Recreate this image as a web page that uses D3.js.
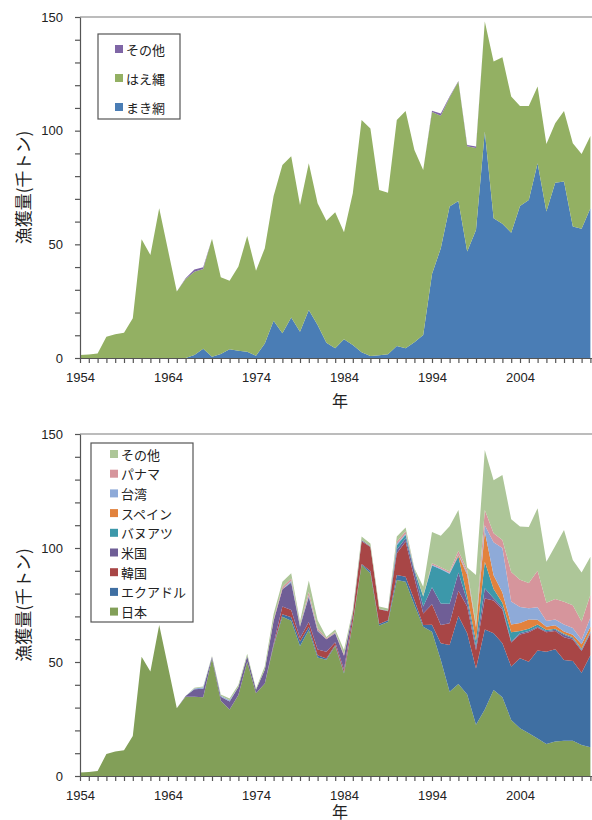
<!DOCTYPE html>
<html>
<head>
<meta charset="utf-8">
<script src="https://cdn.jsdelivr.net/npm/d3@7"></script>
<style>
  html, body { margin: 0; padding: 0; background: #fff; }
  svg { display: block; }
  .tick text { font-family: "Liberation Sans", Arial, sans-serif; font-size: 13px; fill: #222; }
  .jp { font-family: "Noto Sans CJK JP", sans-serif; fill: #222; }
</style>
</head>
<body>
<script>
// Years 1954–2012
const years = d3.range(1954, 2013);

// Upper panel: catch by gear (thousand tonnes)
const gearKeys   = ["まき網", "はえ縄", "その他"];
const purseSeine = [0,0,0,0,0,0,0,0,0,0, 0,0,0,1.3,4.1,0.6,1.8,3.8,3.2,2.8,
  1.0,6.4,16.4,10.9,17.8,11.6,21.1,14.5,6.7,4.3, 8.2,5.7,2.5,0.9,1.2,1.6,5.3,4.3,6.9,10.1,
  37,48.3,66.6,69.1,46.8,56.3,99.6,61.5,59,55.1, 66.9,69.5,85.7,64.4,77.1,77.6,57.8,56.9,65.9];
const longline   = [1.3,1.5,2.0,9.4,10.4,11.1,17.5,52.2,45.3,65.9, 47.5,29.2,34.7,36.6,35.0,51.9,33.7,30.2,37.0,50.9,
  37.4,41.9,54.9,74.0,71.0,55.7,64.6,53.6,53.7,59.8, 47.1,66.8,102.2,100.1,72.7,71.1,99.4,104.4,84.6,72.6,
  71.2,58.3,48.0,52.5,46.4,36.1,48.4,68.9,73.3,59.9, 44.0,41.4,33.7,29.7,26.2,31.1,36.7,32.8,31.8];
const gearOther  = [0,0,0,0,0,0,0,0,0,0, 0,0,0.4,1.0,0.8,0,0,0,0,0,
  0,0,0,0,0,0,0,0,0,0, 0,0,0,0,0,0,0,0,0,0,
  0.6,1.0,0.4,0.3,0.5,0.6,0,0,0,0, 0,0,0,0,0,0,0,0,0];
const gearColors = ["#4a7db5", "#93b063", "#7f66a6"];

// Lower panel: catch by country (thousand tonnes)
const countryKeys = ["日本", "エクアドル", "韓国", "米国", "バヌアツ", "スペイン", "台湾", "パナマ", "その他"];
const japan   = [1.5,1.7,2.2,9.6,10.7,11.3,17.5,52.3,45.8,66.2, 48,29.7,34.8,34.8,34.5,51.5,33,29.2,35.5,50.1,
  36.3,40.6,57,69.9,68.1,57,64,52,51,57, 45,67,92.5,88.9,66,67.5,86,85.2,75,65.5,
  63.3,50.9,37,40.4,35.8,22.5,29.2,37.7,34.5,24.6, 20.9,18.7,16.5,14,15.1,15.5,15.5,13.6,12.6];
const ecuador = [0,0,0,0,0,0,0,0,0,0, 0,0,0,0,0,0,0,0,0,0,
  0,0,0.5,1,1.5,2,1.5,1,0.5,0.5, 0.5,0.5,0.5,1,0.7,0.8,2.2,2.2,2.2,0.7,
  3,7.3,20.5,29.8,26.8,24.7,35.1,24.9,23.7,23.4, 30.7,31.4,38.5,40.5,40.5,35.4,34.9,31.7,40.4];
const korea   = [0,0,0,0,0,0,0,0,0,0, 0,0,0,0,0,0,0,0,0,0,
  0,0,0.5,3.4,3.2,1.5,2,2.5,3,1.2, 1.2,3,10,10.5,6.4,4,9.5,15.4,9.5,5.1,
  9,8,9.5,11,11.7,8,13.6,14.4,14.8,10.5, 10.5,13,10,8.5,8,10,9.5,9.5,9.5];
const usa     = [0,0,0,0,0,0,0,0,0,0, 0,0,0.3,3.2,3.8,0.8,1.8,3.5,3.5,2.5,
  1.5,6,10,7.6,12,5,11,8,5.5,3.8, 6,1,0.5,0.3,0.2,0.2,1.5,1.5,3,3,
  7.5,9.5,8.5,8,2.5,1.5,4.4,1,1,0.5, 0.5,0.5,0.5,0.5,0.5,1,0.5,0.5,0.5];
const vanuatu = [0,0,0,0,0,0,0,0,0,0, 0,0,0,0,0,0,0,0,0,0,
  0,0,0,0,0.3,0.3,0.3,0.3,0,0.2, 0,0,0,0,0,0,2,1.5,0.8,4.4,
  9.5,15,13.2,7.2,2,2.5,11.7,4,2,4, 1,1,1,0.5,0.5,0.5,0.5,0.5,0.5];
const spain   = [0,0,0,0,0,0,0,0,0,0, 0,0,0,0,0,0,0,0,0,0,
  0,0,0,0,0,0,0,0,0,0, 0,0,0,0,0,0,0,0,0,0,
  0,0,0,0.5,9.5,6,13.2,6,4.5,3.5, 3.5,4,2,1.5,1.5,1,1,2,2];
const taiwan  = [0,0,0,0,0,0,0,0,0,0, 0,0,0,0.4,0.6,0,0.4,0.5,0,0,
  0,0,0,0,0.5,0,0.5,0,0,0, 0,0,0,0,0,0,0.5,0.5,0,0,
  0.3,0.3,0.3,0.4,1,0.5,2.8,14.5,19.5,10, 7,5,5.5,2.5,2.5,3,3,2,4];
const panama  = [0,0,0,0,0,0,0,0,0,0, 0,0,0,0,0,0,0,0,0,0,
  0,0,0.5,1,1,0.5,1.5,1,0.4,0.5, 0.6,0,0,0,0,0,1,1,0.3,0.3,
  0.7,0.6,0.7,1.5,1,0.5,6.7,4,3.5,13, 12,11,16,8,9,10,10,8,10];
const countryOther = [0,0,0,0,0,0,0,0,0,0, 0,0,0,0.3,0.3,0.3,0.5,0.8,1,1,
  0.5,1.5,2.5,2.3,2.3,1.5,5,3.5,0.6,1, 2,1.3,1.5,1.3,1,1,2.3,1.7,0.3,4,
  13.7,13.8,19.8,17.9,1.2,22,26.3,23.2,28.5,23.1, 23.3,24.6,27.4,18,23.3,31.5,19.8,21.4,16.7];
const countryColors = ["#829f58", "#3f6fa2", "#a84646", "#6f5e96", "#3c98aa",
                       "#e2823d", "#8eaad8", "#d6959c", "#adc698"];

const yTicks = d3.range(0, 151, 10);
const yLabelValues = [0, 50, 100, 150];
const xTicks = d3.range(1954, 2015);
const xLabelYears = [1954, 1964, 1974, 1984, 1994, 2004];

const W = 592, H = 820;
const svg = d3.select("body").append("svg").attr("width", W).attr("height", H);

const x = d3.scaleLinear().domain([1954, 2014]).range([80, 608]);

function drawPanel(top, bottom, keys, series, colors, legend, titleOffset) {
  const y = d3.scaleLinear().domain([0, 150]).range([bottom, top]);
  const rows = years.map((yr, i) => {
    const r = { year: yr };
    keys.forEach((k, j) => { r[k] = series[j][i]; });
    return r;
  });
  const stacked = d3.stack().keys(keys)(rows);
  const area = d3.area()
    .x(d => x(d.data.year))
    .y0(d => y(d[0]))
    .y1(d => y(d[1]));

  const g = svg.append("g");
  g.selectAll("path.layer").data(stacked).join("path")
    .attr("class", "layer")
    .attr("d", area)
    .attr("fill", (d, i) => colors[i]);

  // frame line across the top of the plot
  g.append("line")
    .attr("x1", x(1954)).attr("x2", W)
    .attr("y1", y(150)).attr("y2", y(150))
    .attr("stroke", "#7a7a7a").attr("stroke-width", 1.2);

  const yAxis = d3.axisLeft(y).tickValues(yTicks).tickSize(5).tickSizeOuter(0).tickPadding(12)
    .tickFormat(v => yLabelValues.includes(v) ? String(v) : "");
  g.append("g").attr("transform", `translate(${x(1954)},0)`).call(yAxis)
    .call(a => a.selectAll("path, line").attr("stroke", "#555").attr("stroke-width", 1.2));

  const xAxis = d3.axisBottom(x).tickValues(xTicks).tickSize(5).tickSizeOuter(0).tickPadding(10)
    .tickFormat(v => xLabelYears.includes(v) ? String(v) : "");
  g.append("g").attr("transform", `translate(0,${bottom})`).call(xAxis)
    .call(a => a.selectAll("path, line").attr("stroke", "#555").attr("stroke-width", 1.2));

  g.append("text").attr("class", "jp")
    .attr("transform", `translate(22,${(top + bottom) / 2}) rotate(-90)`)
    .attr("text-anchor", "middle").attr("dominant-baseline", "central")
    .attr("font-size", 17)
    .text("漁獲量(千トン)");

  g.append("text").attr("class", "jp")
    .attr("x", 340).attr("y", bottom + titleOffset)
    .attr("text-anchor", "middle").attr("dominant-baseline", "central")
    .attr("font-size", 16)
    .text("年");

  // legend, listed top layer first
  const lg = g.append("g");
  lg.append("rect")
    .attr("x", legend.x).attr("y", legend.y)
    .attr("width", legend.w).attr("height", legend.h)
    .attr("fill", "#fff").attr("stroke", "#555").attr("stroke-width", 1.2);
  const order = keys.map((k, i) => i).reverse();
  order.forEach((idx, n) => {
    const cy = legend.y + legend.first + n * legend.step;
    lg.append("rect")
      .attr("x", legend.x + legend.sx).attr("y", cy - 4)
      .attr("width", 8).attr("height", 8)
      .attr("fill", colors[idx]);
    lg.append("text").attr("class", "jp")
      .attr("x", legend.x + legend.sx + 11).attr("y", cy)
      .attr("dominant-baseline", "central")
      .attr("font-size", 13)
      .text(keys[idx]);
  });
}

drawPanel(17, 358, gearKeys, [purseSeine, longline, gearOther], gearColors,
  { x: 98, y: 34, w: 82, h: 85, sx: 17, first: 15, step: 29 }, 42);

drawPanel(434, 776, countryKeys,
  [japan, ecuador, korea, usa, vanuatu, spain, taiwan, panama, countryOther], countryColors,
  { x: 91, y: 443, w: 102, h: 179, sx: 19, first: 11, step: 19.7 }, 35);
</script>
</body>
</html>
